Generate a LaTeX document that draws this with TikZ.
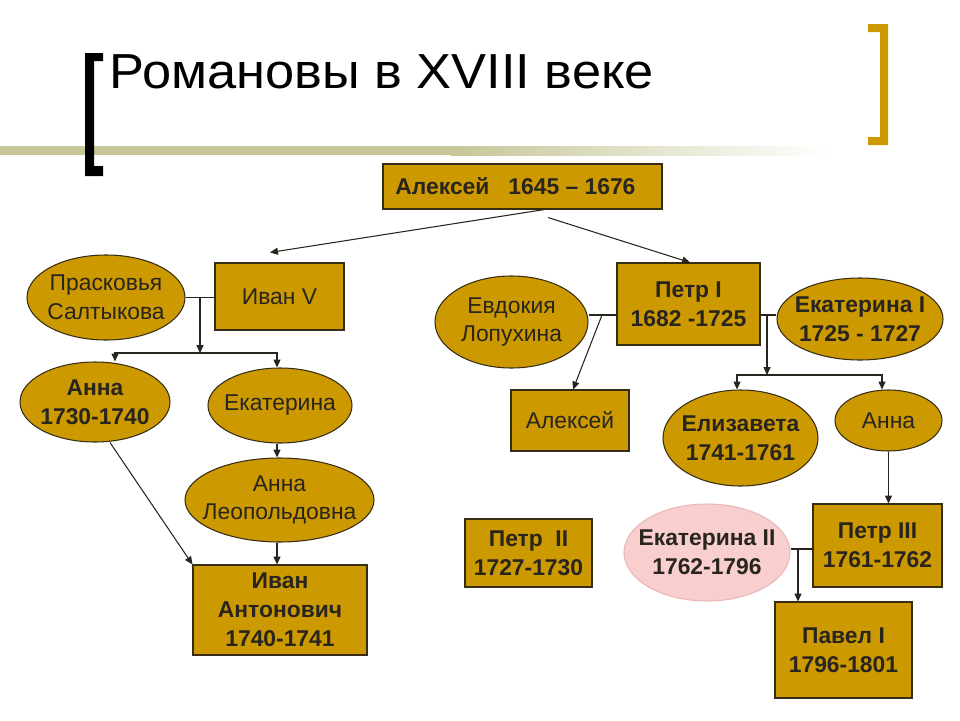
\documentclass[tikz,border=0pt]{standalone}
\usepackage{fontspec}
\setmainfont{Liberation Sans}
\usepackage{xcolor}
\usetikzlibrary{arrows.meta,shapes.geometric}
\newlength{\px}
\setlength{\px}{0.02cm}
\definecolor{gold}{RGB}{204,153,0}
\definecolor{edge}{RGB}{55,45,20}
\definecolor{ink}{RGB}{40,36,30}
\definecolor{rose}{RGB}{248,206,206}
\definecolor{roseedge}{RGB}{236,182,182}
\definecolor{band}{RGB}{198,198,152}

\begin{document}
\begin{tikzpicture}[
  x=0.02cm, y=-0.02cm,
  >={Triangle[length=4.5pt,width=4pt]},
  every node/.style={font=\fontsize{13}{16.4}\selectfont, text=ink},
  bold/.style={font=\fontsize{13}{16.4}\selectfont\bfseries},
  ruler/.style={rectangle, draw=edge, line width=0.6pt, fill=gold, align=center, inner sep=0pt},
  consort/.style={ellipse, draw=edge, line width=0.6pt, fill=gold, inner sep=0pt},
  empress/.style={consort, draw=roseedge, fill=rose},
  caption/.style={align=center, inner sep=0pt},
  link/.style={draw=ink, line width=0.6pt}
]
  \useasboundingbox (0,0) rectangle (960,720);

  \fill[band] (0,146) rectangle (450,155);
  \shade[left color=band, right color=white] (450,146) rectangle (830,155);
  \fill[black] (85,53) -- (103,53) -- (103,61) -- (94,61) -- (94,166) -- (103,166)
    -- (103,176) -- (85,176) -- cycle;
  \fill[gold] (888,24) -- (868,24) -- (868,32) -- (880,32) -- (880,137) -- (868,137)
    -- (868,145) -- (888,145) -- cycle;
  \node[anchor=base west, inner sep=0pt, text=black, font=\fontsize{28}{32}\selectfont]
    (title) at (109,88) {\scalebox{1.065}[1]{Романовы в XVIII веке}};

  \node[ruler, bold, minimum width=279\px, minimum height=45\px] (aleksey) at (522.5,186.5)
    {Алексей~~~1645 – 1676\hspace*{14\px}};
  \node[ruler, minimum width=129\px, minimum height=67\px] (ivanV) at (279.5,296.5) {Иван V};
  \node[consort, minimum width=158\px, minimum height=85\px] (praskovya) at (106,297.5) {};
  \node[caption] (praskovyaT) at (praskovya) {Прасковья\\Салтыкова};
  \node[ruler, bold, minimum width=143\px, minimum height=82\px] (petrI) at (688.5,304)
    {Петр I\\1682 -1725};
  \node[consort, minimum width=153\px, minimum height=92\px] (evdokia) at (511.5,322) {};
  \node[caption] (evdokiaT) at (evdokia) {Евдокия\\Лопухина};
  \node[consort, minimum width=166\px, minimum height=82\px] (ekaterinaI) at (860,319) {};
  \node[caption, bold] (ekaterinaIT) at (ekaterinaI) {Екатерина I\\1725 - 1727};

  \node[consort, minimum width=150\px, minimum height=80\px] (annaI) at (95,402) {};
  \node[caption, bold] (annaIT) at (annaI) {Анна\\1730-1740};
  \node[consort, minimum width=144\px, minimum height=75\px] (ekaterina) at (280,405.5) {};
  \node[caption] (ekaterinaT) at (ekaterina) {Екатерина};
  \node[consort, minimum width=189\px, minimum height=84\px] (annaLeop) at (279.5,500) {};
  \node[caption] (annaLeopT) at (annaLeop) {Анна\\Леопольдовна};
  \node[ruler, bold, minimum width=174\px, minimum height=90\px] (ivanAnt) at (280,610)
    {Иван\\Антонович\\1740-1741};

  \node[ruler, minimum width=118\px, minimum height=61\px] (alekseyP) at (570,420.5) {Алексей};
  \node[consort, minimum width=155\px, minimum height=96\px] (elizaveta) at (740.5,438) {};
  \node[caption, bold] (elizavetaT) at (elizaveta) {Елизавета\\1741-1761};
  \node[consort, minimum width=107\px, minimum height=61\px] (annaP) at (888.5,420.5) {};
  \node[caption] (annaPT) at (annaP) {Анна};
  \node[ruler, bold, minimum width=127\px, minimum height=68\px] (petrII) at (528.5,553)
    {Петр~~II\\1727-1730};
  \node[empress, minimum width=166\px, minimum height=97\px] (ekaterinaII) at (707,552.5) {};
  \node[caption, bold] (ekaterinaIIT) at (ekaterinaII) {Екатерина II\\1762-1796};
  \node[ruler, bold, minimum width=129\px, minimum height=83\px] (petrIII) at (877.5,545.5)
    {Петр III\\1761-1762};
  \node[ruler, bold, minimum width=137\px, minimum height=96\px] (pavel) at (843.5,650)
    {Павел I\\1796-1801};

  \coordinate (ivanKids) at (200,353);
  \coordinate (petrMarr1) at (602,315);
  \coordinate (petrMarr2) at (767,315);
  \coordinate (petrKids) at (767,375);
  \coordinate (pavelLink) at (798,549);

  \draw[link, ->] ([xshift=22\px]aleksey.south) -- ([xshift=-9.5\px, yshift=10\px]ivanV.north);
  \draw[link, ->] ([xshift=25.5\px, yshift=-8\px]aleksey.south) -- ([xshift=1.5\px]petrI.north);

  \draw[link] (praskovya.east) -- (praskovya.east -| ivanV.west);
  \draw[link, ->] (praskovya.east -| ivanKids) -- (ivanKids);
  \draw[link, ->] (ivanKids) -| ([xshift=20\px]annaI.north);
  \draw[link, ->] (ivanKids) -| ([xshift=-3\px]ekaterina.north);
  \draw[link, ->] ([xshift=-3\px]ekaterina.south) -- ([xshift=-2.5\px]annaLeop.north);
  \draw[link, ->] ([xshift=-2.5\px]annaLeop.south) -- ([xshift=-3\px]ivanAnt.north);
  \draw[link, ->] ([xshift=15\px]annaI.south) -- (ivanAnt.north west);

  \draw[link] (petrMarr1 -| evdokia.east) -- (petrMarr1 -| petrI.west);
  \draw[link, ->] (petrMarr1) -- ([xshift=3\px]alekseyP.north);
  \draw[link] (petrMarr2 -| petrI.east) -- (petrMarr2 -| ekaterinaI.west);
  \draw[link, ->] (petrMarr2) -- (petrKids);
  \draw[link, ->] (petrKids) -| ([xshift=-3.5\px]elizaveta.north);
  \draw[link, ->] (petrKids) -| ([xshift=-6.5\px]annaP.north);
  \draw[link, ->] (annaP.south) -- (annaP.south |- petrIII.north);

  \draw[link] (pavelLink -| ekaterinaII.east) -- (pavelLink -| petrIII.west);
  \draw[link, ->] (pavelLink) -- (pavelLink |- pavel.north);
\end{tikzpicture}
\end{document}
